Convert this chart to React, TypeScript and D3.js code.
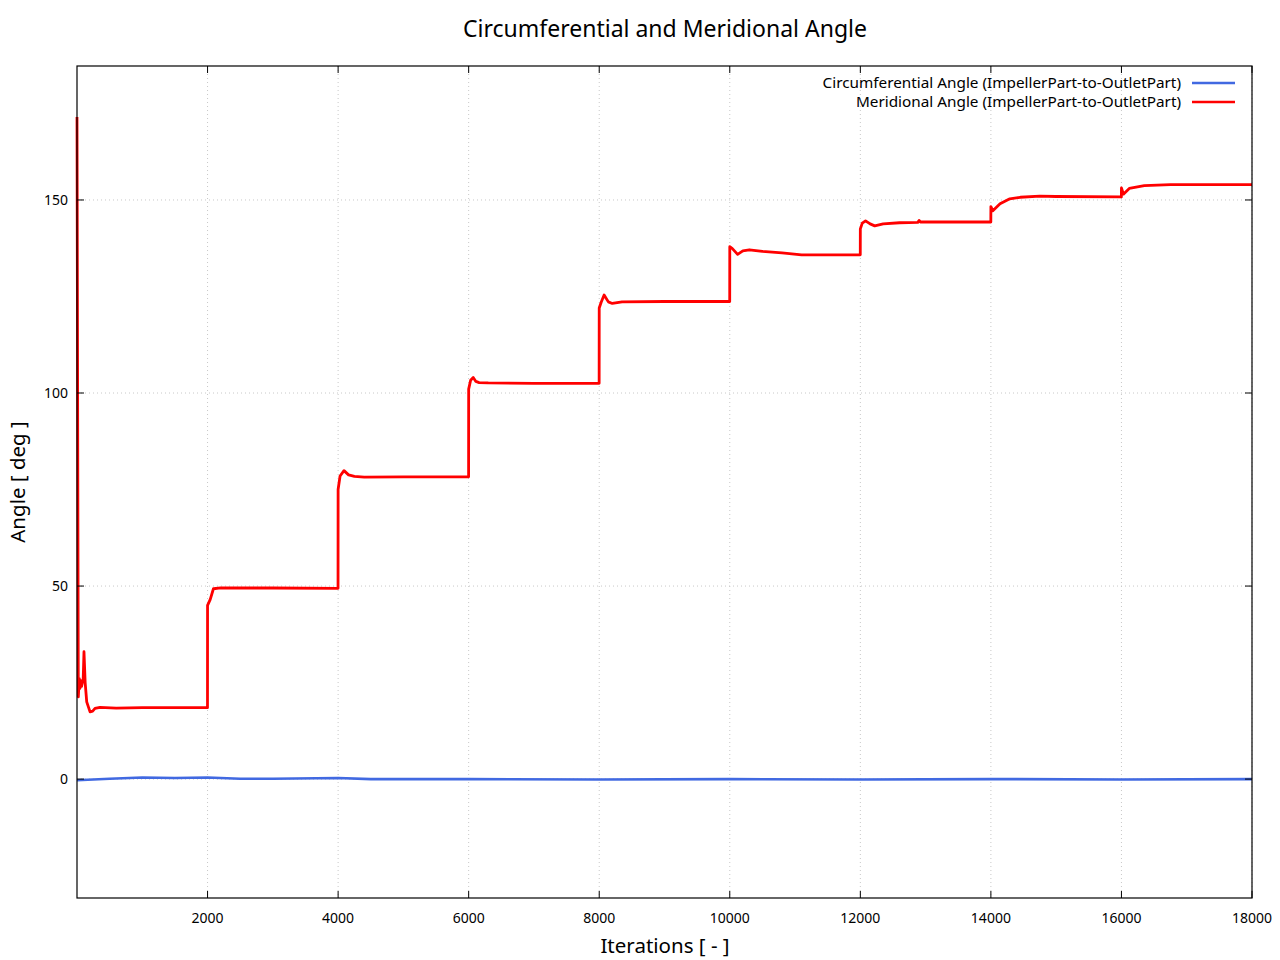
import React from "react";
import * as d3 from "d3";

const xTicks = [2000, 4000, 6000, 8000, 10000, 12000, 14000, 16000, 18000];
const yTicks = [0, 50, 100, 150];

const meridionalIter = [
  0, 20, 35, 45, 57, 70, 95, 107, 125, 149, 200, 240, 276, 352, 600, 1000, 1999,
  2000, 2040, 2090, 2200, 3000, 3999,
  4000, 4030, 4090, 4160, 4250, 4400, 5000, 5999,
  6000, 6030, 6070, 6110, 6160, 6300, 7000, 7999,
  8000, 8030, 8075, 8140, 8200, 8350, 9000, 9999,
  10000, 10040, 10120, 10200, 10300, 10500, 10800, 11100, 11999,
  12000, 12030, 12080, 12150, 12220, 12350, 12600, 12880, 12900, 12920, 13500, 13999,
  14000, 14030, 14140, 14290, 14450, 14750, 15000, 15999,
  16000, 16030, 16120, 16350, 16750, 17500, 18000,
];
const meridionalVal = [
  171.5, 21.3, 26, 23.5, 25.5, 24, 26, 33, 25, 20, 17.4, 17.6, 18.3, 18.6, 18.4, 18.5, 18.5,
  45, 46.5, 49.3, 49.5, 49.5, 49.4,
  75, 78.5, 79.9, 78.8, 78.4, 78.2, 78.3, 78.3,
  101, 103.3, 104, 103, 102.7, 102.6, 102.5, 102.5,
  122, 123.5, 125.4, 123.6, 123.2, 123.6, 123.7, 123.7,
  137.9, 137.4, 135.9, 136.8, 137.1, 136.7, 136.3, 135.8, 135.8,
  142.5, 144, 144.6, 143.8, 143.3, 143.8, 144.1, 144.2, 144.7, 144.3, 144.3, 144.3,
  148.3, 147.2, 149, 150.3, 150.7, 151, 150.9, 150.8,
  153.1, 151.5, 153, 153.7, 154, 154, 154,
];

const circIter = [0, 500, 1000, 1500, 2000, 2500, 3000, 4000, 4500, 6000, 8000, 10000, 12000, 14000, 16000, 18000];
const circVal = [-0.3, 0.1, 0.4, 0.3, 0.4, 0.1, 0.1, 0.3, 0.0, 0.0, -0.1, 0.0, -0.1, 0.0, -0.1, 0.0];

const W = 1280;
const H = 960;
const L = 77, R = 1252, T = 66, B = 898;
const FONT = "'Noto Sans', 'DejaVu Sans', sans-serif";

export default function App() {
  const x = d3.scaleLinear().domain([0, 18000]).range([L, R]);
  const y = d3.scaleLinear().domain([-30.8, 184.7]).range([B, T]);

  const lineGen = d3
    .line<[number, number]>()
    .x((d) => x(d[0]))
    .y((d) => y(d[1]));

  const redData: [number, number][] = meridionalIter.map((v, i) => [v, meridionalVal[i]]);
  const blueData: [number, number][] = circIter.map((v, i) => [v, circVal[i]]);

  const tickLen = 7;

  return (
    <svg width={W} height={H} style={{ position: "absolute", left: 0, top: 0, background: "#fff" }}>
      <rect x={0} y={0} width={W} height={H} fill="#fff" />
      <text x={665} y={37} textAnchor="middle" fontFamily={FONT} fontSize={23} fill="#000">
        Circumferential and Meridional Angle
      </text>

      {/* grid */}
      <g stroke="#c8c8c8" strokeWidth={1} strokeDasharray="1,3">
        {xTicks.map((t) => (
          <line key={"gx" + t} x1={x(t)} x2={x(t)} y1={T} y2={B} />
        ))}
        {yTicks.map((t) => (
          <line key={"gy" + t} x1={L} x2={R} y1={y(t)} y2={y(t)} />
        ))}
      </g>

      <defs>
        <clipPath id="plotclip">
          <rect x={L - 2} y={T} width={R - L + 2} height={B - T} />
        </clipPath>
      </defs>

      <g clipPath="url(#plotclip)" fill="none" strokeLinejoin="round">
        <path d={lineGen(blueData) || ""} stroke="#4169e1" strokeWidth={2.6} />
        <path d={lineGen(redData) || ""} stroke="#ff0000" strokeWidth={2.8} />
      </g>

      {/* ticks */}
      <g stroke="#000" strokeWidth={1}>
        {xTicks.map((t) => (
          <g key={"tx" + t}>
            <line x1={x(t)} x2={x(t)} y1={B} y2={B - tickLen} />
            <line x1={x(t)} x2={x(t)} y1={T} y2={T + tickLen} />
          </g>
        ))}
        {yTicks.map((t) => (
          <g key={"ty" + t}>
            <line x1={L} x2={L + tickLen} y1={y(t)} y2={y(t)} />
            <line x1={R} x2={R - tickLen} y1={y(t)} y2={y(t)} />
          </g>
        ))}
      </g>

      <rect x={L} y={T} width={R - L} height={B - T} fill="none" stroke="#000" strokeWidth={1.2} />

      {/* tick labels */}
      <g fontFamily={FONT} fontSize={14} fill="#000">
        {xTicks.map((t) => (
          <text key={"lx" + t} x={x(t)} y={923} textAnchor="middle">
            {t}
          </text>
        ))}
        {yTicks.map((t) => (
          <text key={"ly" + t} x={68} y={y(t) + 5} textAnchor="end">
            {t}
          </text>
        ))}
      </g>

      <text x={665} y={953} textAnchor="middle" fontFamily={FONT} fontSize={20.5} fill="#000">
        Iterations [ - ]
      </text>
      <text
        transform={`translate(25,${(T + B) / 2}) rotate(-90)`}
        textAnchor="middle"
        fontFamily={FONT}
        fontSize={20.5}
        fill="#000"
      >
        Angle [ deg ]
      </text>

      {/* legend */}
      <g fontFamily={FONT} fontSize={15.3} fill="#000">
        <text x={1181} y={88} textAnchor="end">
          Circumferential Angle (ImpellerPart-to-OutletPart)
        </text>
        <line x1={1192} x2={1235} y1={83} y2={83} stroke="#4169e1" strokeWidth={2.6} />
        <text x={1181} y={107} textAnchor="end">
          Meridional Angle (ImpellerPart-to-OutletPart)
        </text>
        <line x1={1192} x2={1235} y1={102} y2={102} stroke="#ff0000" strokeWidth={2.6} />
      </g>
    </svg>
  );
}
